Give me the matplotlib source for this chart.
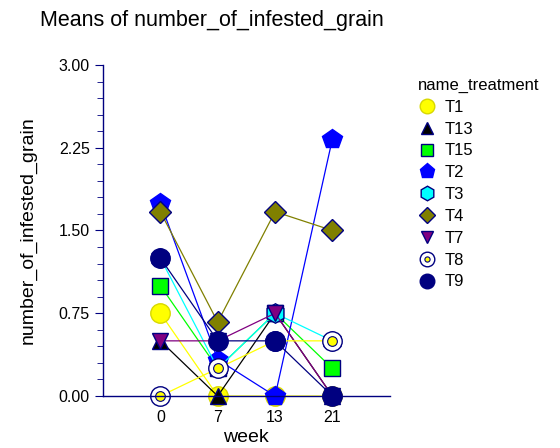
import matplotlib.pyplot as plt
from matplotlib.ticker import MultipleLocator

plt.rcParams['font.family'] = ['Liberation Sans', 'DejaVu Sans']

weeks = ['0', '7', '13', '21']
treatments = ['T1', 'T13', 'T15', 'T2', 'T3', 'T4', 'T7', 'T8', 'T9']
t1 = [0.75, 0.0, 0.0, 0.0]
t13 = [0.5, 0.0, 0.75, 0.0]
t15 = [1.0, 0.25, 0.75, 0.25]
t2 = [1.75, 0.33, 0.0, 2.33]
t3 = [1.25, 0.25, 0.75, 0.5]
t4 = [1.67, 0.67, 1.67, 1.5]
t7 = [0.5, 0.5, 0.75, 0.0]
t8 = [0.0, 0.25, 0.5, 0.5]
t9 = [1.25, 0.5, 0.5, 0.0]
values = [t1, t13, t15, t2, t3, t4, t7, t8, t9]

navy = '#000080'
# (marker, size, fill, edge, line colour)
styles = [
    ('o', 14, '#ffff00', '#d8d800', '#ffff00'),
    ('^', 12, '#000000', navy, '#000000'),
    ('s', 11, '#00ff00', navy, '#00ff00'),
    ('p', 15, '#0000ff', '#0000ff', '#0000ff'),
    ('h', 14, '#00ffff', navy, '#00ffff'),
    ('D', 11, '#808000', navy, '#808000'),
    ('v', 12, '#800080', navy, '#800080'),
    ('o', 14, 'white', navy, '#ffff00'),
    ('o', 14, navy, navy, navy),
]

fig = plt.figure(figsize=(5.6, 4.48), dpi=100)
ax = fig.add_axes([0.184, 0.116, 0.512, 0.739])
xs = [1, 2, 3, 4]

handles = []
for name, ys, (m, ms, fc, ec, lc) in zip(treatments, values, styles):
    h, = ax.plot(xs, ys, color=lc, lw=0.9, marker=m, ms=ms, mfc=fc, mec=ec,
                 mew=1.0, label=name, clip_on=False)
    if name == 'T8':
        ax.plot(xs, ys, ls='none', marker='o', ms=7, mfc='#ffff00', mec=navy,
                mew=0.8, clip_on=False)
        inner, = ax.plot([], [], ls='none', marker='o', ms=5, mfc='#ffff00',
                         mec=navy, mew=0.8)
        handles.append((h, inner))
    else:
        handles.append(h)

ax.set_xlim(0, 5)
ax.set_ylim(0, 3)
ax.set_xticks(xs)
ax.set_xticklabels(weeks)
ax.set_yticks([0, 0.75, 1.5, 2.25, 3.0])
ax.set_yticklabels(['0.00', '0.75', '1.50', '2.25', '3.00'])
ax.yaxis.set_minor_locator(MultipleLocator(0.15))
ax.tick_params(axis='x', length=0, labelsize=11.5, pad=10)
ax.tick_params(axis='y', which='major', length=6, color=navy, labelsize=11.5)
ax.tick_params(axis='y', which='minor', length=4, color=navy)
for s in ['top', 'right']:
    ax.spines[s].set_visible(False)
for s in ['left', 'bottom']:
    ax.spines[s].set_color(navy)
    ax.spines[s].set_linewidth(1.0)

ax.set_xlabel('week', fontsize=14, labelpad=3)
ax.set_ylabel('number_of_infested_grain', fontsize=14, labelpad=16)
fig.text(0.071, 0.955, 'Means of number_of_infested_grain', fontsize=15.5,
         ha='left', va='center')

leg = fig.legend(handles, treatments, loc='upper left',
                 bbox_to_anchor=(0.72, 0.86), frameon=False,
                 title='name_treatment', title_fontsize=12, fontsize=12,
                 markerscale=0.75, handlelength=1.0, handletextpad=0.6,
                 labelspacing=0.41, alignment='left')
for line in leg.get_lines():
    line.set_linestyle('none')

fig.savefig('out.png', dpi=100)
